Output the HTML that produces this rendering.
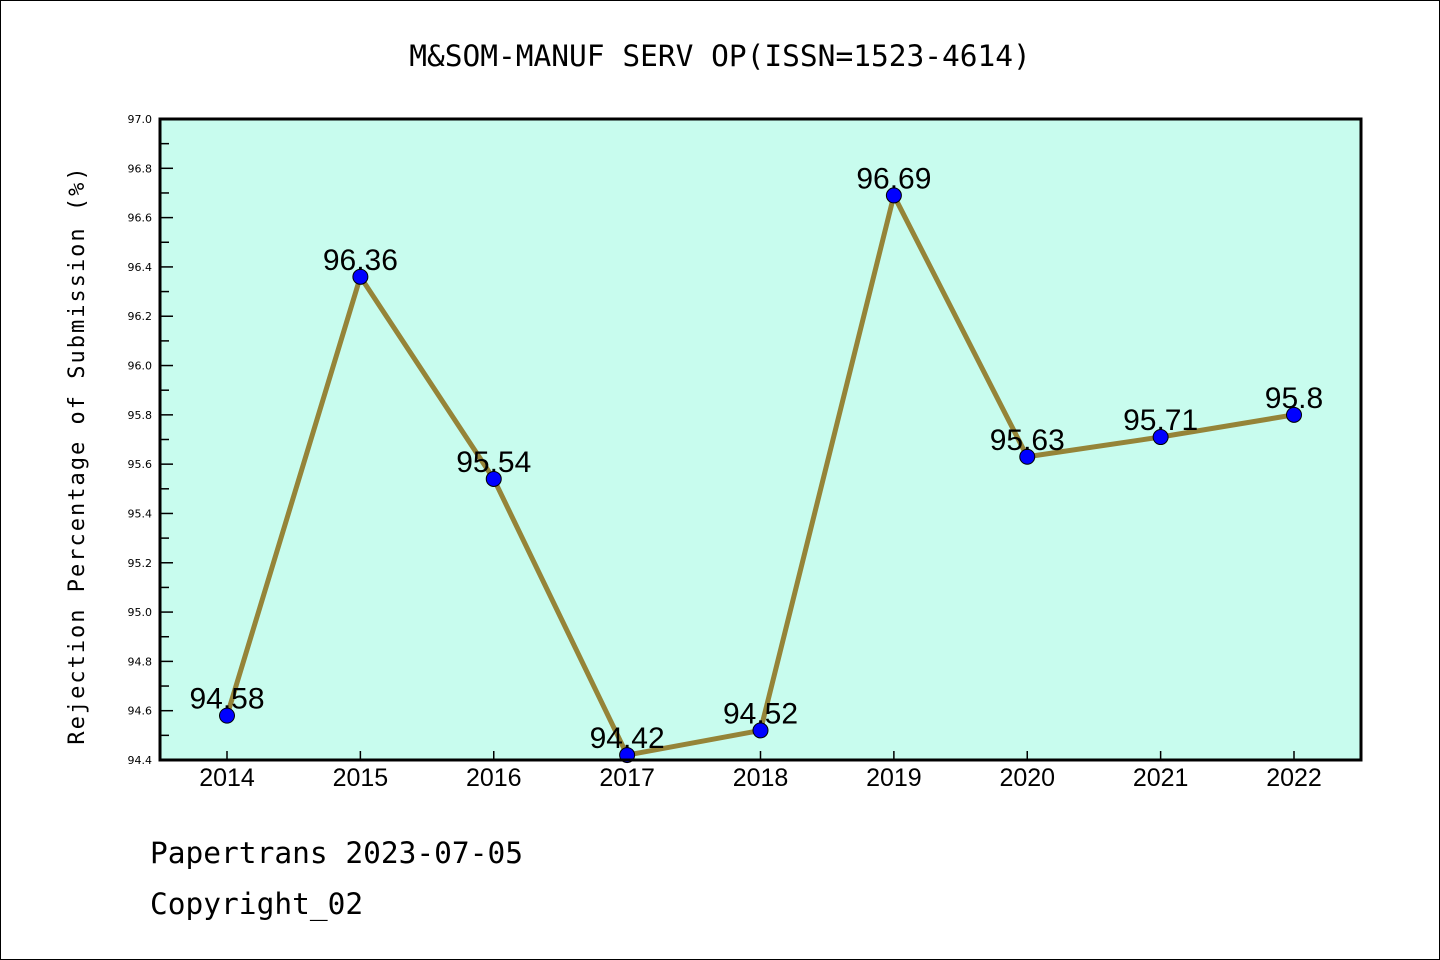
<!DOCTYPE html>
<html><head><meta charset="utf-8"><style>
html,body{margin:0;padding:0;background:#fff;}
#wrap{position:relative;width:1440px;height:960px;overflow:hidden;}
</style></head><body>
<div id="wrap">
<svg id="chart" width="1440" height="960" xmlns="http://www.w3.org/2000/svg" font-family="'WenQuanYi Zen Hei','DejaVu Sans Mono',monospace">
<rect x="0.5" y="0.5" width="1439" height="959" fill="#fff" stroke="#000" stroke-width="1"/>
<text x="720" y="66" text-anchor="middle" font-size="29.5">M&amp;SOM-MANUF SERV OP(ISSN=1523-4614)</text>
<rect x="160" y="119" width="1201" height="641" fill="#c8fcee"/>
<g id="yaxis"></g><g id="xaxis"></g><g id="series"></g>
<rect x="160" y="119" width="1201" height="641" fill="none" stroke="#000" stroke-width="3"/>
<text transform="translate(84,455) rotate(-90)" text-anchor="middle" font-size="22" letter-spacing="2">Rejection Percentage of Submission (%)</text>
<text x="150" y="863" font-size="29.5">Papertrans 2023-07-05</text>
<text x="150" y="914" font-size="29.5">Copyright_02</text>
</svg>
</div>
<script>
const categories=["2014","2015","2016","2017","2018","2019","2020","2021","2022"];
const values=[94.58,96.36,95.54,94.42,94.52,96.69,95.63,95.71,95.8];
const valueLabels=["94.58","96.36","95.54","94.42","94.52","96.69","95.63","95.71","95.8"];
const yTicks=["94.4","94.6","94.8","95.0","95.2","95.4","95.6","95.8","96.0","96.2","96.4","96.6","96.8","97.0"];
const yMin=94.4,yMax=97.0;
const L=160,R=1361,T=119,B=760;
const NS="http://www.w3.org/2000/svg";
function xS(i){return 227+i*(1294-227)/(categories.length-1);}
function yS(v){return B-(v-yMin)/(yMax-yMin)*(B-T);}
function mk(tag,attrs,parent){const e=document.createElementNS(NS,tag);for(const k in attrs)e.setAttribute(k,attrs[k]);parent.appendChild(e);return e;}
const ya=document.getElementById('yaxis'),xa=document.getElementById('xaxis'),se=document.getElementById('series');
yTicks.forEach((t,i)=>{const v=parseFloat(t);const y=yS(v);
 const l=mk('line',{x1:L,x2:L+13,y1:y,y2:y,stroke:'#000','stroke-width':1.5},ya);
 
 
 const tx=mk('text',{x:L-8,y:y+4,'text-anchor':'end','font-size':11,'font-family':'DejaVu Sans,sans-serif'},ya);tx.textContent=t;
 
 
 if(i<yTicks.length-1){const ym=yS(v+0.1);const m=mk('line',{x1:L,x2:L+9,y1:ym,y2:ym,stroke:'#000','stroke-width':1.5},ya);
 
 }
});
categories.forEach((c,i)=>{const x=xS(i);
 const l=mk('line',{x1:x,x2:x,y1:B,y2:B-9,stroke:'#000','stroke-width':1.5},xa);
 
 
 const tx=mk('text',{x:x,y:B+26,'text-anchor':'middle','font-size':25,'font-family':'Liberation Sans,sans-serif'},xa);tx.textContent=c;
 
 
});
const pts=values.map((v,i)=>xS(i)+','+yS(v)).join(' ');
const pl=mk('polyline',{points:pts,fill:'none',stroke:'#958438','stroke-width':5,'stroke-linejoin':'round'},se);


values.forEach((v,i)=>{const x=xS(i),y=yS(v);
 const c=mk('circle',{cx:x,cy:y,r:7.5,fill:'#0000ff',stroke:'#000','stroke-width':1},se);
 
 
 const t=mk('text',{x:x,y:y-7,'text-anchor':'middle','font-size':30,'font-family':'Liberation Sans,sans-serif'},se);t.textContent=valueLabels[i];
 
 
});
</script>
</body></html>
